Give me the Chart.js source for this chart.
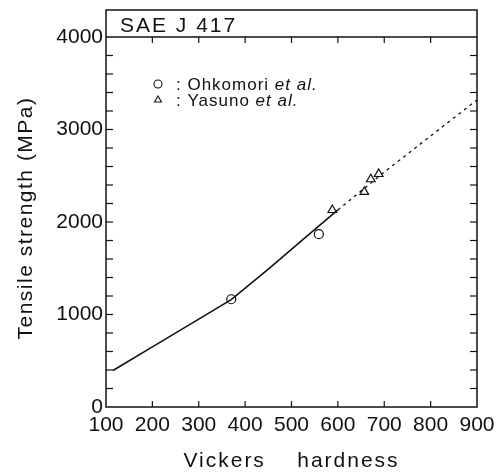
<!DOCTYPE html>
<html><head><meta charset="utf-8">
<script src="https://cdn.jsdelivr.net/npm/chart.js@4.4.0/dist/chart.umd.min.js"></script>
<style>html,body{margin:0;padding:0;background:#fff;}#wrap{width:501px;height:475px;position:relative;}</style>
</head><body><div id="wrap"><canvas id="c"></canvas></div>
<script>
const headerLabel = 'SAE J 417';
const xTitle = 'Vickers    hardness';
const yTitle = 'Tensile strength (MPa)';
const seriesNames = ['Ohkomori', 'Yasuno'];
const seriesSuffix = 'et al.';
const xMin = 100, xMax = 900, xStep = 100;
const yMin = 0, yMax = 4000, yStep = 200, yLabelStep = 1000;

// SAE J 417 conversion line (solid part, then dashed extrapolation)
const saeSolidHV = [115, 200, 300, 370, 450, 520, 600];
const saeSolidTS = [395, 650, 950, 1160, 1490, 1790, 2130];
const saeDashHV = [600, 700, 800, 900];
const saeDashTS = [2130, 2540, 2930, 3320];

// measured points
const ohkomoriHV = [370, 559];
const ohkomoriTS = [1165, 1868];
const yasunoHV = [588, 657, 671, 688];
const yasunoTS = [2130, 2326, 2462, 2519];

const pts = (xs, ys) => xs.map((v, i) => ({x: v, y: ys[i]}));
const FONT = '"Liberation Sans", Arial, Helvetica, sans-serif';
const INK = '#111';

const framePlugin = {
  id: 'framePlugin',
  afterDraw(chart) {
    const {ctx, chartArea: a, scales: {x, y}} = chart;
    const hTop = a.top - 27;
    ctx.save();
    ctx.strokeStyle = INK; ctx.fillStyle = INK;
    ctx.lineWidth = 1.5;
    ctx.strokeRect(a.left, hTop, a.right - a.left, a.bottom - hTop);
    ctx.beginPath(); ctx.moveTo(a.left, a.top); ctx.lineTo(a.right, a.top); ctx.stroke();
    ctx.lineWidth = 1.2;
    const seg = (x1, y1, x2, y2) => { ctx.beginPath(); ctx.moveTo(x1, y1); ctx.lineTo(x2, y2); ctx.stroke(); };
    x.ticks.forEach(t => {
      const p = x.getPixelForValue(t.value);
      if (p <= a.left + 1 || p >= a.right - 1) return;
      seg(p, a.bottom, p, a.bottom - 6);
      seg(p, a.top, p, a.top + 6);
    });
    y.ticks.forEach(t => {
      const p = y.getPixelForValue(t.value);
      if (p <= a.top + 1 || p >= a.bottom - 1) return;
      seg(a.left, p, a.left + 7, p);
      seg(a.right, p, a.right - 7, p);
    });
    // header label
    ctx.letterSpacing = '2px';
    ctx.font = '21px ' + FONT;
    ctx.textBaseline = 'alphabetic'; ctx.textAlign = 'left';
    ctx.fillText(headerLabel, a.left + 14, a.top - 5);
    // x title
    ctx.textAlign = 'center';
    ctx.fillText(xTitle, (a.left + a.right) / 2, 467);
    // y title
    ctx.save();
    ctx.translate(32, (a.top + a.bottom) / 2 - 4);
    ctx.rotate(-Math.PI / 2);
    ctx.letterSpacing = '1.5px';
    ctx.font = '21px ' + FONT;
    ctx.fillText(yTitle, 0, 0);
    ctx.restore();
    // legend
    const legendRows = [
      {ds: chart.data.datasets[2], y: 84},
      {ds: chart.data.datasets[3], y: 100}
    ];
    ctx.letterSpacing = '1px';
    legendRows.forEach((r, i) => {
      ctx.lineWidth = 1.1;
      ctx.strokeStyle = INK; ctx.fillStyle = '#fff';
      Chart.helpers.drawPoint(ctx, {pointStyle: r.ds.pointStyle, radius: 4, rotation: 0, borderWidth: 1.1}, 158, r.y);
      ctx.fillStyle = INK;
      ctx.textAlign = 'left'; ctx.textBaseline = 'middle';
      ctx.font = '17px ' + FONT;
      const t1 = ': ' + seriesNames[i] + ' ';
      ctx.fillText(t1, 176, r.y + 1);
      const w = ctx.measureText(t1).width;
      ctx.font = 'italic 17px ' + FONT;
      ctx.fillText(seriesSuffix, 176 + w, r.y + 1);
    });
    ctx.restore();
  }
};

Chart.defaults.color = INK;
Chart.defaults.font.family = FONT;

new Chart(document.getElementById('c'), {
  type: 'scatter',
  data: {
    datasets: [
      {label: headerLabel, data: pts(saeSolidHV, saeSolidTS), showLine: true, pointRadius: 0,
       borderColor: INK, borderWidth: 1.6, tension: 0},
      {label: headerLabel + ' (extrapolated)', data: pts(saeDashHV, saeDashTS), showLine: true, pointRadius: 0,
       borderColor: INK, borderWidth: 1.3, borderDash: [3, 4], tension: 0},
      {label: seriesNames[0], data: pts(ohkomoriHV, ohkomoriTS), pointStyle: 'circle', pointRadius: 4.5,
       borderColor: INK, backgroundColor: '#fff', borderWidth: 1.2},
      {label: seriesNames[1], data: pts(yasunoHV, yasunoTS), pointStyle: 'triangle', pointRadius: 5,
       borderColor: INK, backgroundColor: '#fff', borderWidth: 1.2}
    ]
  },
  options: {
    responsive: true, maintainAspectRatio: false, animation: false,
    layout: {padding: {left: 0, right: 24, top: 37, bottom: 0}},
    plugins: {legend: {display: false}, tooltip: {enabled: false}},
    scales: {
      x: {
        type: 'linear', min: xMin, max: xMax,
        afterFit: s => { s.height = 68; },
        grid: {display: false, drawTicks: false},
        border: {display: false},
        ticks: {stepSize: xStep, autoSkip: false, maxRotation: 0, padding: 6,
                font: {size: 21, family: FONT}, color: INK}
      },
      y: {
        type: 'linear', min: yMin, max: yMax,
        afterFit: s => { s.width = 106; },
        grid: {display: false, drawTicks: false},
        border: {display: false},
        ticks: {stepSize: yStep, autoSkip: false, padding: 3,
                callback: v => (v % yLabelStep === 0 ? String(v) : ''),
                font: {size: 21, family: FONT}, color: INK}
      }
    }
  },
  plugins: [framePlugin]
});
</script>
</body></html>
